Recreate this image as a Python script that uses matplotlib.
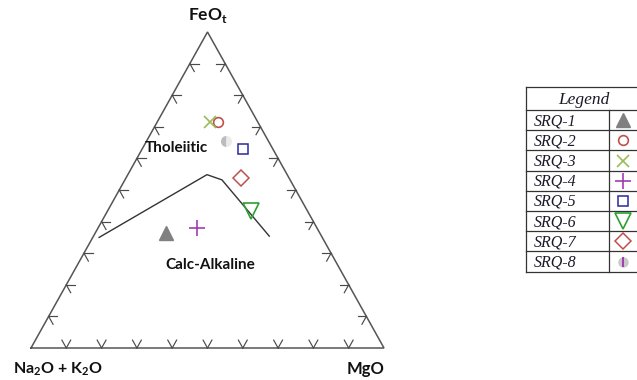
import numpy as np
import matplotlib
matplotlib.use("Agg")
import matplotlib.pyplot as plt

plt.rcParams['mathtext.fontset'] = 'custom'
plt.rcParams['mathtext.rm'] = 'Lato'
plt.rcParams['mathtext.bf'] = 'Lato:bold'

# AFM compositions (wt% normalised): Na2O+K2O, FeOt, MgO
samples = ["SRQ-1", "SRQ-2", "SRQ-3", "SRQ-4", "SRQ-5", "SRQ-6", "SRQ-7", "SRQ-8"]
alk = [43.7, 11.3, 13.5, 34.0, 8.5, 16.0, 13.6, 12.0]
feo = [36.2, 71.6, 71.6, 38.1, 62.9, 43.5, 53.7, 65.6]
mgo = [20.0, 17.1, 14.9, 27.9, 28.6, 40.5, 32.7, 22.4]

# Tholeiitic / calc-alkaline dividing line
line_alk = [63.2, 22.7, 19.3, 14.8]
line_feo = [35.0, 54.8, 53.2, 35.4]
line_mgo = [1.8, 22.4, 27.5, 49.8]

tick_fracs = [0.1, 0.2, 0.3, 0.4, 0.5, 0.6, 0.7, 0.8, 0.9]

H = np.sqrt(3) / 2


def to_xy(a, f, m):
    a, f, m = np.asarray(a, float), np.asarray(f, float), np.asarray(m, float)
    s = a + f + m
    f, m = f / s, m / s
    return m + 0.5 * f, H * f


fig = plt.figure(figsize=(6.37, 3.80), dpi=100)
ax = fig.add_axes([0, 0, 1, 1])
ax.set_xlim(-31 / 353, 606 / 353)
ax.set_ylim(-32 / 316 * H, 348 / 316 * H)
ax.set_aspect('auto')
ax.axis('off')

# triangle frame
tx, ty = to_xy([100, 0, 0, 100], [0, 100, 0, 0], [0, 0, 100, 0])
ax.plot(tx, ty, color='#555555', lw=1.1, solid_joinstyle='miter', zorder=2)

# double-armed ticks along each side
L = 0.025
u_left = np.array([0.5, H])      # direction A -> F
u_right = np.array([-0.5, H])    # direction M -> F
u_horiz = np.array([1.0, 0.0])
tick_kw = dict(color='#4a4a4a', lw=0.85, zorder=2)
for t in tick_fracs:
    # bottom side
    p = np.array(to_xy(1 - t, 0, t))
    for d in (u_left, u_right):
        ax.plot([p[0], p[0] + L * d[0]], [p[1], p[1] + L * d[1]], **tick_kw)
    # left side
    p = np.array(to_xy(1 - t, t, 0))
    for d in (u_horiz, -u_right):
        ax.plot([p[0], p[0] + L * d[0]], [p[1], p[1] + L * d[1]], **tick_kw)
    # right side
    p = np.array(to_xy(0, t, 1 - t))
    for d in (-u_horiz, -u_left):
        ax.plot([p[0], p[0] + L * d[0]], [p[1], p[1] + L * d[1]], **tick_kw)

# boundary line
bx, by = to_xy(line_alk, line_feo, line_mgo)
ax.plot(bx, by, color='#333333', lw=1.0, zorder=3)

styles = [
    dict(marker='^', ms=10, mfc='#808080', mec='#808080'),
    dict(marker='o', ms=7, mfc='none', mec='#c0504d', mew=1.2),
    dict(marker='x', ms=9, mfc='none', mec='#9bbb59', mew=1.2),
    dict(marker='+', ms=11, mfc='none', mec='#a23cb4', mew=1.2),
    dict(marker='s', ms=7, mfc='none', mec='#2a2aa0', mew=1.1),
    dict(marker='v', ms=11, mfc='none', mec='#2ca033', mew=1.2),
    dict(marker='D', ms=8, mfc='none', mec='#c0504d', mew=1.1),
    dict(marker='o', ms=8, fillstyle='left', mfc='#bcbcbc', mfcalt='#ebebeb', mec='none'),
]

px, py = to_xy(alk, feo, mgo)
for i in range(len(samples)):
    ax.plot(px[i], py[i], linestyle='none', zorder=4, **styles[i])

lab_kw = dict(family='Lato', fontweight='bold', color='#111111')
fx, fy = to_xy(0, 100, 0)
ax.text(fx, fy + 0.02, r'FeO$_\mathbf{t}$', ha='center', va='bottom', fontsize=12.5, **lab_kw)
ax.text(-0.052, -0.035, r'Na$_\mathbf{2}$O + K$_\mathbf{2}$O', ha='left', va='top', fontsize=11.5, **lab_kw)
ax.text(1.0, -0.035, 'MgO', ha='right', va='top', fontsize=12, **lab_kw)
tlx, tly = to_xy(27.2, 63.4, 9.4)
ax.text(tlx, tly, 'Tholeiitic', ha='center', va='center', fontsize=11, **lab_kw)
clx, cly = to_xy(36.2, 26.3, 37.5)
ax.text(clx, cly, 'Calc-Alkaline', ha='center', va='center', fontsize=11, **lab_kw)

# legend table
lg = fig.add_axes([0, 0, 1, 1])
lg.set_xlim(0, 637)
lg.set_ylim(380, 0)
lg.axis('off')
left, right, col = 526, 640, 609
top, head_bot, row_h = 87, 110, 20.2
bottom = head_bot + row_h * len(samples)
line_kw = dict(color='#333333', lw=0.9)
lg.plot([left, right], [top, top], **line_kw)
lg.plot([left, left], [top, bottom], **line_kw)
for k in range(len(samples) + 1):
    yy = head_bot + k * row_h
    lg.plot([left, right], [yy, yy], **line_kw)
lg.plot([col, col], [head_bot, bottom], **line_kw)
lg.text(584, (top + head_bot) / 2 + 1, 'Legend', ha='center', va='center',
        family='Liberation Serif', style='italic', fontsize=12.5, color='#1a1a28')
for i, name in enumerate(samples):
    yc = head_bot + row_h * (i + 0.5)
    lg.text(534, yc + 1, name, ha='left', va='center', family='Liberation Serif',
            style='italic', fontsize=11.5, color='#1a1a28')
    st = dict(styles[i])
    if i == 7:
        st = dict(marker='o', ms=7.5, mfc='#c8c8c8', mec='none')
    lg.plot(623, yc, linestyle='none', **st)
    if i == 7:
        lg.plot(623, yc, linestyle='none', marker='|', ms=7.5, mec='#a23cb4', mew=1.4)

fig.savefig('out.png', dpi=100)
